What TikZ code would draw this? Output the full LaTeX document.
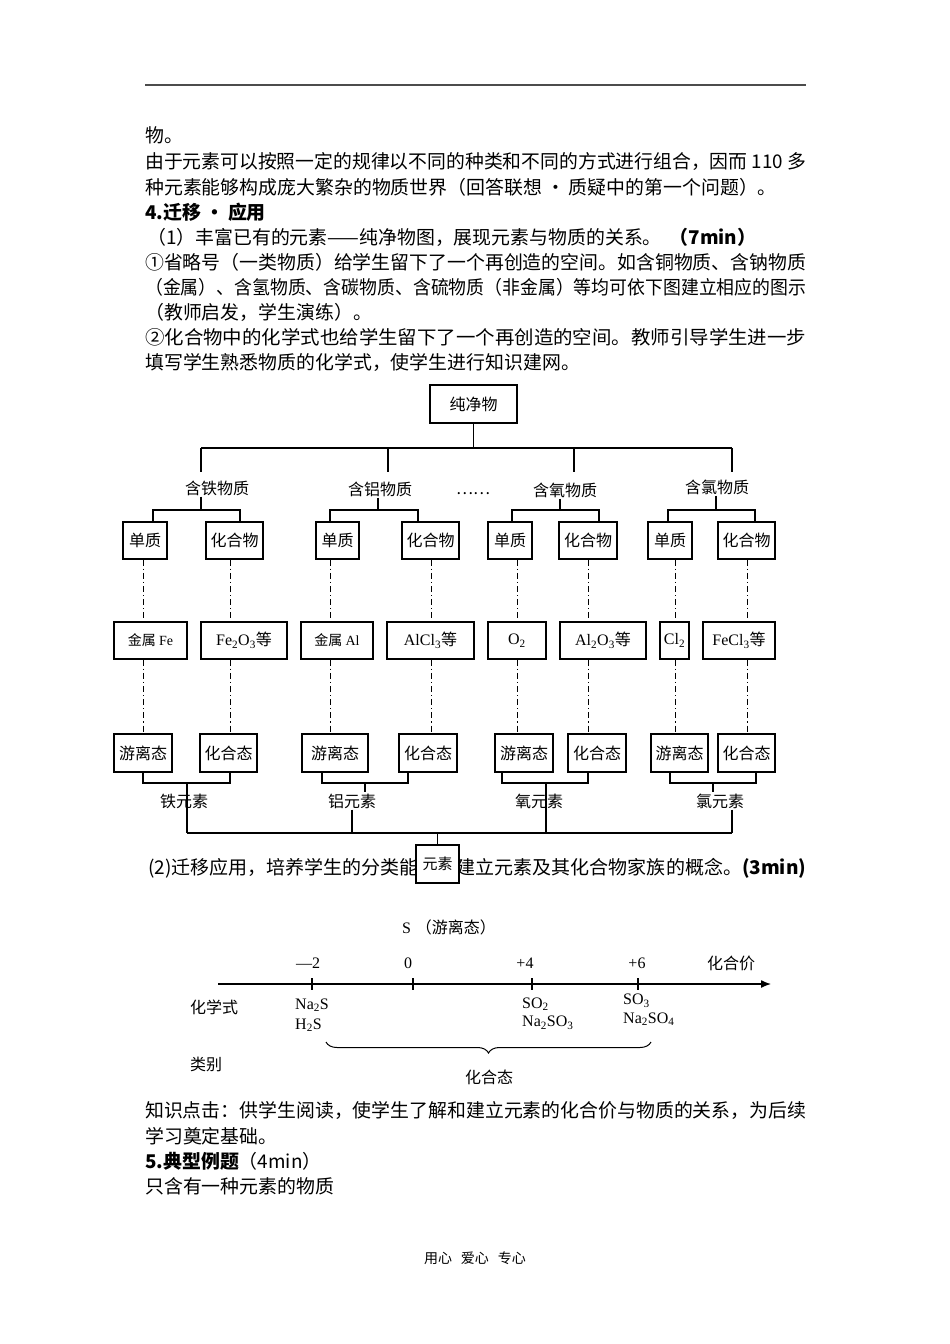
\documentclass[tikz,border=0pt]{standalone}
\usepackage{graphicx}
\usepackage{fontspec}
\setmainfont{Noto Sans CJK SC}
\newfontfamily\tnr{Liberation Serif}
\usetikzlibrary{arrows.meta,decorations.pathreplacing}
\newcommand{\fsub}[1]{\textsubscript{#1}}
\newcommand{\fullline}[2][661pt]{\resizebox{#1}{\height}{#2}}
\tikzset{
    page text/.style={
        anchor=west,
        inner sep=0pt,
        font=\fontsize{18.9}{18.9}\selectfont
    },
    page bold/.style={
        anchor=west,
        inner sep=0pt,
        font=\bfseries\fontsize{18.9}{18.9}\selectfont
    },
    top rule/.style={line width=1.6pt, black!70},
    tree box/.style={
        draw,
        line width=1.3pt,
        fill=white,
        inner sep=0pt,
        minimum height=37pt,
        font=\fontsize{16}{16}\selectfont
    },
    tree label/.style={inner sep=1pt, font=\fontsize{16}{16}\selectfont},
    tree line/.style={line width=1.3pt},
    tree dash/.style={line width=0.9pt, dash pattern=on 6pt off 3pt on 1.2pt off 3pt},
    axis label/.style={inner sep=0pt, font=\fontsize{16}{16}\selectfont},
    formula/.style={anchor=west, inner sep=0pt, font=\tnr\fontsize{16}{16}\selectfont},
    axis line/.style={line width=1.3pt, -{Latex[length=10pt,width=8pt]}},
    tick line/.style={line width=1.1pt}
}
\begin{document}
\begin{tikzpicture}[x=1pt,y=-1pt]
    \path[fill=white] (0,0) rectangle (950,1344);
    \useasboundingbox (0,0) rectangle (950,1344);

    \draw[top rule] (145,85) -- (806,85);

    \node[page text] (t1) at (145,135) {物。};
    \node[page text] (t2) at (145,162) {\fullline{由于元素可以按照一定的规律以不同的种类和不同的方式进行组合，因而 110 多}};
    \node[page text] (t3) at (145,187) {种元素能够构成庞大繁杂的物质世界（回答联想\hspace{4pt}•\hspace{4pt}质疑中的第一个问题）。};
    \node[page bold] (t4) at (145,212) {4.迁移\hspace{4pt}•\hspace{4pt}应用};
    \node[page text] (t5) at (147,237) {（1）丰富已有的元素——纯净物图，展现元素与物质的关系。\hspace{8pt}\textbf{（7min）}};
    \node[page text] (t6) at (145,262) {\fullline{①省略号（一类物质）给学生留下了一个再创造的空间。如含铜物质、含钠物质}};
    \node[page text] (t7) at (145,287) {\fullline{（金属）、含氢物质、含碳物质、含硫物质（非金属）等均可依下图建立相应的图示}};
    \node[page text] (t8) at (145,312) {（教师启发，学生演练）。};
    \node[page text] (t9) at (145,337) {\fullline{②化合物中的化学式也给学生留下了一个再创造的空间。教师引导学生进一步}};
    \node[page text] (t10) at (145,362) {填写学生熟悉物质的化学式，使学生进行知识建网。};

    \node[tree box, minimum width=87pt, minimum height=38pt] (pure) at (473.5,404) {纯净物};
    \coordinate (feD) at (201,448);
    \coordinate (alD) at (388,448);
    \coordinate (oD) at (574,448);
    \coordinate (clD) at (732,448);
    \draw[tree line] (pure.south) -- (pure.south |- feD);
    \draw[tree line] (feD) -- (clD);
    \foreach \d in {feD,alD,oD,clD} {
        \draw[tree line] (\d) -- ++(0,24);
    }

    \node[tree label] (feG) at (217,488) {含铁物质};
    \node[tree label] (alG) at (380,489) {含铝物质};
    \node[tree label] (dots) at (473,494) {……};
    \node[tree label] (oG) at (565,490) {含氧物质};
    \node[tree label] (clG) at (717,487) {含氯物质};

    \foreach \nm/\cx/\w/\txt in {fe1/145/44/单质, fe2/234.5/57/化合物, al1/337.5/43/单质, al2/430.5/57/化合物,
                                 o1/510/44/单质, o2/588/58/化合物, cl1/670/44/单质, cl2/746.5/57/化合物} {
        \node[tree box, minimum width=\w pt] (\nm) at (\cx,540.5) {\txt};
    }

    \coordinate (feS) at (201,510);
    \coordinate (alS) at (378,510);
    \coordinate (oS) at (560,510);
    \coordinate (clS) at (716,510);
    \draw[tree line] (feG.south -| feS) -- (feS);
    \draw[tree line] (alG.south -| alS) -- (alS);
    \draw[tree line] (oG.south -| oS) -- (oS);
    \draw[tree line] (clG.south -| clS) -- (clS);
    \draw[tree line] (fe1.north -| 153,0) |- (feS) -| (fe2.north -| 240,0);
    \draw[tree line] (al1.north -| 330,0) |- (alS) -| (al2.north -| 418,0);
    \draw[tree line] (o1.north -| 512,0) |- (oS) -| (o2.north -| 599,0);
    \draw[tree line] (cl1.north -| 668,0) |- (clS) -| (cl2.north -| 755,0);

    \foreach \nm/\cx/\w/\txt in {feA/150.5/73/{{\fontsize{14}{14}\selectfont 金属 {\tnr Fe}}},
                                 feB/244/86/{{\tnr Fe\fsub{2}O\fsub{3}}等},
                                 alA/337/72/{{\fontsize{14}{14}\selectfont 金属 {\tnr Al}}},
                                 alB/430.5/87/{{\tnr AlCl\fsub{3}}等},
                                 oA/517/58/{{\tnr O\fsub{2}}\hspace{12pt}},
                                 oB/603/86/{{\tnr Al\fsub{2}O\fsub{3}}等},
                                 clA/674.5/29/{{\tnr Cl\fsub{2}}},
                                 clB/739/72/{{\tnr FeCl\fsub{3}}等}} {
        \node[tree box, minimum width=\w pt] (\nm) at (\cx,640.5) {\txt};
    }

    \foreach \nm/\cx/\w/\txt in {feX/143/58/游离态, feY/228.5/57/化合态, alX/335/66/游离态, alY/428/58/化合态,
                                 oX/524/58/游离态, oY/597/58/化合态, clX/679.5/57/游离态, clY/746.5/57/化合态} {
        \node[tree box, minimum width=\w pt, minimum height=38pt] (\nm) at (\cx,753) {\txt};
    }

    \foreach \boxa/\boxb/\boxc/\cx in {fe1/feA/feX/143, fe2/feB/feY/230, al1/alA/alX/330, al2/alB/alY/431,
                                       o1/oA/oX/517, o2/oB/oY/588, cl1/clA/clX/675, cl2/clB/clY/747} {
        \draw[tree dash] (\boxa.south -| \cx,0) -- (\boxb.north -| \cx,0);
        \draw[tree dash] (\boxb.south -| \cx,0) -- (\boxc.north -| \cx,0);
    }

    \coordinate (feE) at (187,783);
    \coordinate (alE) at (365,783);
    \coordinate (oE) at (546,783);
    \coordinate (clE) at (713,783);
    \draw[tree line] (feX.south -| 143,0) |- (feE) -| (feY.south -| 230,0);
    \draw[tree line] (alX.south -| 322,0) |- (alE) -| (alY.south -| 408,0);
    \draw[tree line] (oX.south -| 502,0) |- (oE) -| (oY.south -| 588,0);
    \draw[tree line] (clX.south -| 670,0) |- (clE) -| (clY.south -| 756,0);

    \node[tree label] (feL) at (184,801) {铁元素};
    \node[tree label] (alL) at (352,801) {铝元素};
    \node[tree label] (oL) at (539,801) {氧元素};
    \node[tree label] (clL) at (720,801) {氯元素};

    \coordinate (feF) at (187,833);
    \coordinate (alF) at (352,833);
    \coordinate (oF) at (546,833);
    \coordinate (clF) at (732,833);
    \draw[tree line] (feE) -- (feF);
    \draw[tree line] (oE) -- (oF);
    \draw[tree line] (alE) -- (alE |- alL.north);
    \draw[tree line] (alL.south -| alF) -- (alF);
    \draw[tree line] (clE) -- (clE |- clL.north);
    \draw[tree line] (clL.south -| clF) -- (clF);
    \draw[tree line] (feF) -- (clF);

    \node[page text] (t11) at (148,868) {\fullline[658pt]{(2)迁移应用，培养学生的分类能力和建立元素及其化合物家族的概念。\textbf{(3min)}}};
    \node[tree box, minimum width=43pt, minimum height=38pt, font=\fontsize{15}{15}\selectfont] (elem) at (437.5,864) {元素};
    \draw[tree line] (elem.north) -- (elem.north |- feF);

    \node[axis label] (sfree) at (449,927) {{\tnr S}\hspace{5pt}（游离态）};
    \foreach \nm/\cx/\txt in {vm2/308/—2, v0/408/0, v4/525/+4, v6/637/+6} {
        \node[axis label] (\nm) at (\cx,963) {\tnr\txt};
    }
    \node[axis label] (valence) at (731,963) {化合价};
    \coordinate (axisL) at (218,984);
    \coordinate (axisR) at (771,984);
    \draw[axis line] (axisL) -- (axisR);
    \foreach \cx in {312,413,532,638} {
        \draw[tick line] (\cx,978) -- (\cx,990);
    }

    \node[axis label, anchor=west] (formrow) at (190,1007) {化学式};
    \node[formula] (na2s) at (295,1005) {Na\fsub{2}S};
    \node[formula] (h2s) at (295,1025) {H\fsub{2}S};
    \node[formula] (so2) at (522,1004) {SO\fsub{2}};
    \node[formula] (na2so3) at (522,1023) {Na\fsub{2}SO\fsub{3}};
    \node[formula] (so3) at (623,1001) {SO\fsub{3}};
    \node[formula] (na2so4) at (623,1019) {Na\fsub{2}SO\fsub{4}};

    \coordinate (braceL) at (326,1042);
    \coordinate (braceR) at (651,1042);
    \draw[line width=1pt, decorate, decoration={brace, mirror, amplitude=11pt}] (braceL) -- (braceR);
    \node[axis label, anchor=west] (kind) at (190,1064) {类别};
    \node[axis label] (combined) at (489,1077) {化合态};

    \node[page text] (t12) at (145,1110) {\fullline{知识点击：供学生阅读，使学生了解和建立元素的化合价与物质的关系，为后续}};
    \node[page text] (t13) at (145,1136) {学习奠定基础。};
    \node[page text] (t14) at (145,1161) {\textbf{5.典型例题}（4min）};
    \node[page text] (t15) at (145,1186) {只含有一种元素的物质};

    \node[inner sep=0pt, font=\fontsize{14}{14}\selectfont] (footer) at (475,1258) {用心\hspace{9pt}爱心\hspace{9pt}专心};
\end{tikzpicture}
\end{document}
